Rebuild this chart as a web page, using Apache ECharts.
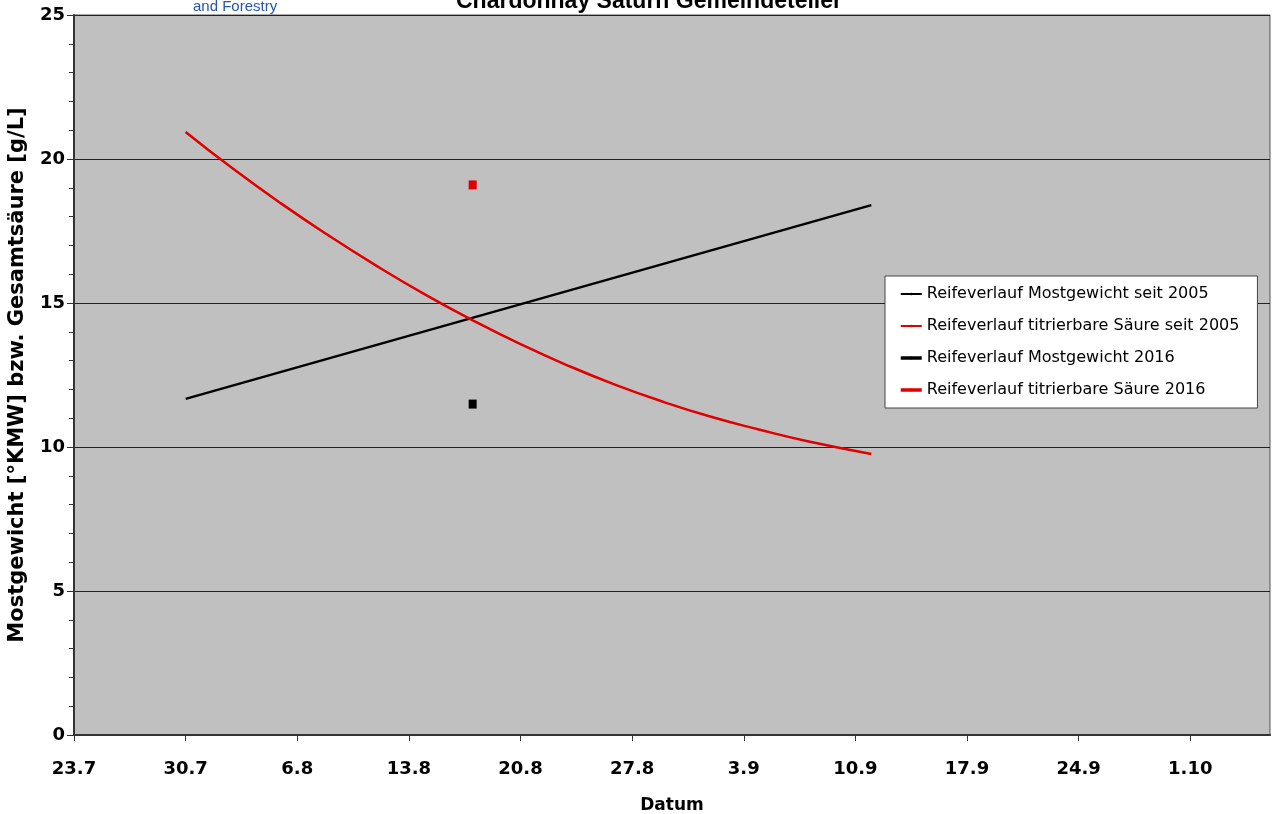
<!DOCTYPE html>
<html>
<head>
<meta charset="utf-8">
<script src="https://cdn.jsdelivr.net/npm/echarts@6/dist/echarts.min.js"></script>
<style>
    html, body { margin: 0; padding: 0; background: #fff; }
    #chart { width: 1274px; height: 814px; }
</style>
</head>
<body>
<div id="chart"></div>
<script>
// x = Tage ab 23.7., eine Beschriftung pro Woche
var tickLabels = ['23.7', '30.7', '6.8', '13.8', '20.8', '27.8', '3.9', '10.9', '17.9', '24.9', '1.10'];

// Trend seit 2005
var mostDays = [7, 50];
var mostValues = [11.67, 18.40];
var saeureDays = [7, 10, 13, 16, 19, 22, 25, 28, 31, 34, 37, 40, 43, 46, 50];
var saeureValues = [20.94, 19.65, 18.45, 17.33, 16.28, 15.30, 14.40, 13.57, 12.82, 12.15, 11.56, 11.04, 10.60, 10.20, 9.76];

// Messung 2016
var days2016 = [25];
var most2016 = [11.49];
var saeure2016 = [19.10];

var seriesNames = [
    'Reifeverlauf Mostgewicht seit 2005',
    'Reifeverlauf titrierbare Säure seit 2005',
    'Reifeverlauf Mostgewicht 2016',
    'Reifeverlauf titrierbare Säure 2016'
];

function pairs(xs, ys) {
    return xs.map(function (x, i) { return [x, ys[i]]; });
}

var myChart = echarts.init(document.getElementById('chart'));

var boldFont = 'DejaVu Sans';

option = {
    animation: false,
    title: [{
        text: 'Chardonnay Saturn Gemeindeteller',
        left: 451,
        top: -15,
        textStyle: {
            fontFamily: 'Liberation Sans',
            fontSize: 23,
            fontWeight: 'bold',
            color: '#000'
        }
    }, {
        text: 'and Forestry',
        left: 188,
        top: -6,
        textStyle: {
            fontFamily: 'Liberation Sans',
            fontSize: 15,
            fontWeight: 'normal',
            color: '#2457aa'
        }
    }],
    grid: {
        left: 74,
        right: 4,
        top: 15,
        bottom: 79,
        outerBoundsMode: 'none',
        show: true,
        backgroundColor: '#c0c0c0',
        borderColor: '#555',
        borderWidth: 1
    },
    legend: {
        orient: 'vertical',
        left: 885,
        top: 276,
        padding: [8, 18, 8, 14],
        itemGap: 12,
        itemWidth: 21,
        itemHeight: 3,
        backgroundColor: '#fff',
        borderColor: '#444',
        borderWidth: 1,
        borderRadius: 0,
        textStyle: {
            fontFamily: 'DejaVu Sans',
            fontSize: 16,
            lineHeight: 20,
            color: '#000'
        },
        data: [
            { name: seriesNames[0], lineStyle: { width: 2 } },
            { name: seriesNames[1], lineStyle: { width: 2 } },
            { name: seriesNames[2], lineStyle: { width: 3.5 } },
            { name: seriesNames[3], lineStyle: { width: 3.5 } }
        ]
    },
    xAxis: {
        type: 'value',
        min: 0,
        max: 75,
        interval: 7,
        name: 'Datum',
        nameLocation: 'middle',
        nameGap: 62,
        nameTextStyle: {
            fontFamily: boldFont,
            fontSize: 17,
            fontWeight: 'bold',
            color: '#000'
        },
        axisLine: { show: true, onZero: false, lineStyle: { color: '#333', width: 2 } },
        axisTick: { show: true, length: 6, lineStyle: { color: '#333' } },
        splitLine: { show: false },
        axisLabel: {
            margin: 25,
            fontFamily: boldFont,
            fontSize: 18,
            fontWeight: 'bold',
            color: '#000',
            showMaxLabel: false,
            formatter: function (v) {
                return v % 7 === 0 ? tickLabels[v / 7] : '';
            }
        }
    },
    yAxis: {
        type: 'value',
        min: 0,
        max: 25,
        interval: 5,
        name: 'Mostgewicht [°KMW] bzw. Gesamtsäure [g/L]',
        nameLocation: 'middle',
        nameGap: 46,
        nameTextStyle: {
            fontFamily: boldFont,
            fontSize: 21,
            fontWeight: 'bold',
            color: '#000'
        },
        axisLine: { show: true, lineStyle: { color: '#333', width: 2 } },
        axisTick: { show: true, length: 7, lineStyle: { color: '#333' } },
        minorTick: { show: true, splitNumber: 5, length: 5, lineStyle: { color: '#333' } },
        splitLine: { show: true, lineStyle: { color: '#222', width: 1 } },
        axisLabel: {
            margin: 9,
            fontFamily: boldFont,
            fontSize: 18,
            fontWeight: 'bold',
            color: '#000'
        }
    },
    series: [{
        name: seriesNames[0],
        type: 'line',
        symbol: 'none',
        color: '#000',
        lineStyle: { color: '#000', width: 2.5 },
        data: pairs(mostDays, mostValues)
    }, {
        name: seriesNames[1],
        type: 'line',
        symbol: 'none',
        smooth: true,
        color: '#e00000',
        lineStyle: { color: '#e00000', width: 2.5 },
        data: pairs(saeureDays, saeureValues)
    }, {
        name: seriesNames[2],
        type: 'line',
        symbol: 'rect',
        symbolSize: [8, 9],
        color: '#000',
        itemStyle: { color: '#000' },
        lineStyle: { color: '#000', width: 3 },
        data: pairs(days2016, most2016)
    }, {
        name: seriesNames[3],
        type: 'line',
        symbol: 'rect',
        symbolSize: [8, 9],
        color: '#e00000',
        itemStyle: { color: '#e00000' },
        lineStyle: { color: '#e00000', width: 3 },
        data: pairs(days2016, saeure2016)
    }]
};

myChart.setOption(option);
</script>
</body>
</html>
